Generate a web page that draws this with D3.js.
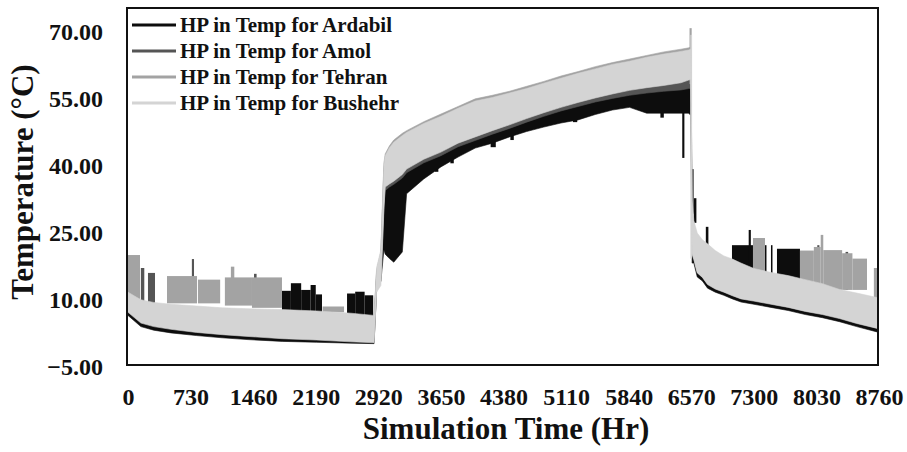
<!DOCTYPE html>
<html><head><meta charset="utf-8">
<script src="https://cdn.jsdelivr.net/npm/d3@7"></script>
<style>
html,body{margin:0;padding:0;background:#fff;}
svg{display:block;font-family:"Liberation Serif","Times New Roman",serif;font-weight:bold;}
</style></head>
<body>
<svg id="chart" width="907" height="452"></svg>
<script>
// ---- data ----
const seriesNames = ["HP in Temp for Ardabil","HP in Temp for Amol","HP in Temp for Tehran","HP in Temp for Bushehr"];
const seriesColors = ["#0d0d0d","#555555","#a3a3a3","#d4d4d4"];
const xTicks = [0,730,1460,2190,2920,3650,4380,5110,5840,6570,7300,8030,8760];
const yTicks = [-5,10,25,40,55,70];

const hours = [0,150,300,500,800,1100,1400,1800,2200,2600,2870,2900,2950,2985,3000,3050,3100,3200,3250,3450,3650,3850,4050,4250,4450,4650,4850,5050,5250,5450,5650,5850,6050,6250,6450,6540,6565,6580,6600,6640,6700,6760,6850,6950,7050,7150,7300,7500,7700,7900,8100,8300,8500,8760];

const ardabilLo = [6.3,3.8,3.0,2.4,1.8,1.3,0.9,0.5,0.3,0.1,0.0, 12.0,14.0, 21.0,20.0,19.0,18.2,20.5,33.5,36.8,39.5,41.7,43.7,44.8,46.2,47.4,48.4,49.3,50.0,51.2,52.2,52.8,51.5,51.5,51.5,51.5,51.0, 18.0, 18.0,14.9,14.0,12.4,11.5,10.8,10.0,9.3,8.8,8.1,7.4,6.5,5.8,4.9,3.8,2.5];
const ardabilHi = [10.0,8.3,7.7,7.3,6.9,6.5,6.3,6.1,5.8,5.3,4.8, 15.0,18.0, 34.0,34.7,35.5,36.1,37.5,38.7,40.9,42.5,44.5,45.9,47.3,48.6,50.0,51.3,52.5,53.5,54.5,55.3,56.0,56.5,56.9,57.2,57.5,57.5, 30.0, 26.0,23.2,21.7,20.8,19.3,18.1,17.4,16.5,15.3,14.4,13.7,12.8,11.9,10.6,9.8,8.7];

const amolLo = [7.3,4.9,4.1,3.5,2.8,2.3,1.9,1.4,1.1,0.7,0.5, 12.0,14.0, 31.0,34.2,35.0,35.6,37.0,38.2,40.4,42.0,44.0,45.4,46.8,48.1,49.5,50.8,52.0,53.0,54.0,54.8,55.5,56.0,56.4,56.7,57.0,57.0, 20.5, 18.9,15.9,14.9,13.3,12.3,11.6,10.8,10.1,9.6,8.9,8.2,7.3,6.6,5.7,4.6,3.4];
const amolHi = [10.7,9.0,8.4,8.0,7.6,7.2,7.0,6.8,6.5,6.0,5.5, 16.0,20.0, 39.0,41.0,42.8,44.0,45.5,46.2,48.2,49.8,51.6,53.2,54.0,55.0,56.0,57.2,58.3,59.4,60.4,61.4,62.1,63.0,63.7,64.3,64.6,64.8, 31.0, 26.5,23.7,22.2,21.3,19.8,18.6,17.9,17.0,15.8,14.9,14.2,13.3,12.4,11.1,10.3,9.2];

const tehranLo = [7.4,5.0,4.2,3.6,2.9,2.4,2.0,1.5,1.2,0.8,0.6, 12.0,14.0, 30.8,35.8,36.5,37.1,38.6,39.8,42.0,43.6,45.6,47.0,48.4,49.7,51.1,52.4,53.6,54.7,55.7,56.6,57.4,58.0,58.5,59.1,59.7,59.8, 20.5, 19.0,16.0,15.0,13.4,12.4,11.7,10.9,10.2,9.7,9.0,8.3,7.4,6.7,5.8,4.7,3.5];
const tehranHi = [11.0,9.3,8.7,8.3,7.9,7.5,7.3,7.1,6.8,6.3,5.8, 16.5,20.5, 40.3,42.4,44.2,45.5,47.0,47.6,49.6,51.3,53.0,54.7,55.5,56.4,57.5,58.6,59.8,60.8,61.9,62.8,63.6,64.4,65.2,65.8,66.1,66.3, 31.5, 26.7,23.9,22.4,21.5,20.0,18.8,18.1,17.2,16.0,15.1,14.4,13.5,12.6,11.3,10.5,9.4];

const bushehrLo = [7.0,4.6,3.8,3.2,2.5,2.0,1.6,1.1,0.8,0.4,0.2, 11.5,13.0, 30.0,35.0,35.7,36.3,37.8,39.0,41.2,42.8,44.8,46.2,47.6,48.9,50.3,51.6,52.8,53.9,54.9,55.8,56.6,57.2,57.7,58.3,58.9,59.0, 20.0, 18.8,15.8,14.8,13.2,12.2,11.5,10.7,10.0,9.5,8.8,8.1,7.2,6.5,5.6,4.5,3.3];
const bushehrHi = [11.5,9.8,9.2,8.8,8.4,8.0,7.8,7.6,7.3,6.8,6.3, 17.0,21.0, 40.0,42.0,43.8,45.0,46.5,47.2,49.2,50.8,52.6,54.2,55.0,56.0,57.0,58.2,59.3,60.4,61.4,62.4,63.1,64.0,64.7,65.3,65.6,65.8, 32.0, 27.5,24.7,23.2,22.3,20.8,19.6,18.9,18.0,16.8,15.9,15.2,14.3,13.4,12.1,11.3,10.2];

// short excursions: [startHour, endHour, low, high]
const ardabilBursts = [[1796,1900,7,11.8],[1900,2020,7,13.5],[2020,2130,7,12.0],[2130,2190,7,13.1],[2190,2263,7,11.0],[2555,2650,6,11.2],[2650,2760,6,11.6],[2760,2860,6,10.8],[3360,3400,36.1,40],[3580,3620,38.4,42],[3760,3800,40.3,44],[4230,4290,43.9,47],[4460,4500,45.5,48],[5190,5240,49.5,52],[6210,6250,50.5,53],[6465,6490,41.5,52],[6600,6630,27,32.5],[6740,6770,22,26.1],[7045,7290,16.5,22.0],[7240,7265,16.5,25.4],[7430,7445,14,22],[7500,7515,14,22],[7570,7838,13.5,21.2]];
const amolBursts = [[150,190,9,16.9],[233,315,9,15.8],[745,770,10,18.9],[1470,1500,10,15.6],[6575,6600,29,39],[8040,8065,12,22],[8370,8400,12,20.5]];
const tehranBursts = [[0,140,10,19.8],[455,805,9,15.1],[816,1075,9,14.3],[1130,1446,8.5,14.8],[1200,1240,9,17.2],[1446,1796,8,14.8],[2270,2520,7,8.3],[6550,6575,58,70.5],[7290,7430,12,23.6],[7838,8000,12,20.8],[8000,8080,12,21.6],[8080,8110,12,24.3],[8110,8330,12,20.9],[8330,8450,12,20.2],[8450,8620,12,19.0],[8700,8760,10,16.9]];
const bushehrBursts = [[6560,6580,19,69]];

// ---- drawing ----
const svg = d3.select("#chart");
const x = d3.scaleLinear().domain([0, 8760]).range([128, 879]);
const y = d3.scaleLinear().domain([-5, 70]).range([366, 30.4]);

svg.append("defs").append("clipPath").attr("id","plotclip")
  .append("rect").attr("x",128).attr("y",9).attr("width",749).attr("height",355);

const series = [
  {lo: ardabilLo, hi: ardabilHi, bursts: ardabilBursts},
  {lo: amolLo, hi: amolHi, bursts: amolBursts},
  {lo: tehranLo, hi: tehranHi, bursts: tehranBursts},
  {lo: bushehrLo, hi: bushehrHi, bursts: bushehrBursts}
];

const area = d3.area()
  .x(d => x(d.h)).y0(d => y(d.lo)).y1(d => y(d.hi))
  .curve(d3.curveLinear);

const plot = svg.append("g").attr("clip-path","url(#plotclip)");
series.forEach((s, i) => {
  const pts = hours.map((h, k) => ({h, lo: s.lo[k], hi: s.hi[k]}));
  const g = plot.append("g");
  g.selectAll("rect").data(s.bursts).enter().append("rect")
    .attr("x", d => x(d[0]))
    .attr("width", d => Math.max(1.5, x(d[1]) - x(d[0])))
    .attr("y", d => y(d[3]))
    .attr("height", d => y(d[2]) - y(d[3]))
    .attr("fill", seriesColors[i]);
  g.append("path").datum(pts).attr("d", area).attr("fill", seriesColors[i])
    .attr("stroke", seriesColors[i]).attr("stroke-width", 0.6);
});

// frame
svg.append("rect").attr("x",127).attr("y",8).attr("width",751).attr("height",357)
  .attr("fill","none").attr("stroke","#111").attr("stroke-width",2);

// y axis
const yAxis = svg.append("g").attr("transform","translate(103,0)")
  .call(d3.axisLeft(y).tickValues(yTicks).tickFormat(d3.format(".2f")).tickSize(0).tickPadding(0));
yAxis.select(".domain").remove();
yAxis.selectAll("text").attr("font-size",24).attr("font-weight","bold")
  .attr("font-family","Liberation Serif, serif").attr("fill","#111").attr("dy","0.36em");

// x axis
const xAxis = svg.append("g").attr("transform","translate(0,388)")
  .call(d3.axisBottom(x).tickValues(xTicks).tickFormat(d3.format("d")).tickSize(0).tickPadding(0));
xAxis.select(".domain").remove();
xAxis.selectAll("text").attr("font-size",24).attr("font-weight","bold")
  .attr("font-family","Liberation Serif, serif").attr("fill","#111").attr("dy","0.71em");

// titles
svg.append("text").attr("x",506).attr("y",439).attr("text-anchor","middle")
  .attr("font-size",31).attr("fill","#111").text("Simulation Time (Hr)");
svg.append("text").attr("transform","translate(33,182) rotate(-90)").attr("text-anchor","middle")
  .attr("font-size",31).attr("fill","#111").text("Temperature (°C)");

// legend
const leg = svg.append("g");
seriesNames.forEach((n, i) => {
  const ly = 25 + i * 26;
  leg.append("line").attr("x1",132).attr("x2",176).attr("y1",ly).attr("y2",ly)
    .attr("stroke", seriesColors[i]).attr("stroke-width",3);
  leg.append("text").attr("x",180).attr("y",ly + 7).attr("font-size",21)
    .attr("fill","#111").text(n);
});
</script>
</body></html>
